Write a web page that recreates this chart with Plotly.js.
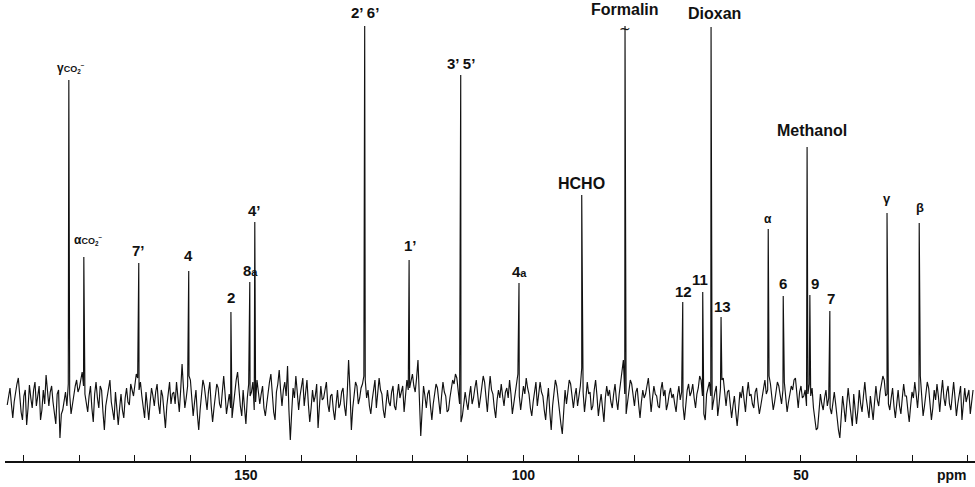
<!DOCTYPE html>
<html>
<head>
<meta charset="utf-8">
<script src="https://cdn.plot.ly/plotly-3.0.1.min.js"></script>
<style>html,body{margin:0;padding:0;background:#fff}#chart{width:975px;height:487px}</style>
</head>
<body>
<div id="chart"></div>
<script>
// ---- DATA ----
// baseline noise of the 13C spectrum, sampled every 0.25 ppm from 193 ppm down to 19 ppm
const noiseStart = 193;
const noiseStep = 0.25;
const noise = [
  -5, 6, 12, -4, -18, -2, 8, 16, 22, 4, -12, -20, 4, 10, -25, -8, 15, 2, -8, 10, 18, -6, 2, 14, -20, -10, 10, -4, 25, 12, -6, 8, 14, -2, -15, -24, 6, 10, -38, -14,
  -10, 2, 8, -6, 16, 6, -14, -4, 5, 14, 20, 8, 12, 22, 28, 14, 6, -6, -12, 4, 14, -8, -22, 6, 18, 2, -8, 14, 10, -12, -30, -6, 4, 12, 20, -2, -12, -20, 8, -6,
  -25, -8, 6, -10, -18, 2, 12, -2, -5, 16, 10, 4, 15, 26, 22, 10, 18, 4, -10, -18, 8, -6, -20, -2, 12, 4, -6, 8, 16, -4, -14, 10, 4, -12, -28, -6, 10, 18, -4, 6,
  8, -4, 18, 6, -12, 10, 36, 12, -8, 2, 14, 24, 20, -4, -16, -2, 10, -14, -30, -10, 6, 20, 14, 2, -10, 8, 18, -6, -22, -8, 4, 16, 12, -4, -8, 10, 24, 6, -14, -4,
  6, -8, -18, -4, 12, 20, 28, 8, -6, -16, 10, -8, -24, 2, 16, 4, 8, 18, -10, -2, 20, 8, -4, 6, 14, -8, -16, -4, 10, 18, 26, 4, -12, -20, 8, 16, 30, 10, -6, 10,
  18, 4, 34, -10, -40, -12, 12, 2, 24, 8, -10, 4, 16, 22, -6, 8, 20, -4, -22, -8, 10, -2, 4, 16, -28, -6, 14, 0, 2, 10, 18, -4, -12, 4, 6, -10, -20, -4, 10, -8,
  -4, 8, 12, -6, -16, 6, 40, 10, -30, -8, 8, 18, 14, -4, 2, 12, 16, 24, 20, 2, 10, -6, -14, 0, 12, 20, -8, 6, 22, 10, 6, -10, -18, -4, 10, -2, -6, 8, 14, -6,
  -10, 4, 16, 2, 8, 14, -12, 6, 20, 10, 12, 20, 26, 14, 8, 22, 40, 2, -36, -10, 14, 4, -8, 6, 10, -6, -20, -4, 6, 16, 12, -2, -14, 4, 18, 8, 4, -12, -10, 2,
  10, 20, 16, 26, 22, 8, -4, -22, -16, -6, 8, -2, -10, 4, 14, -4, 2, 12, 20, 6, -8, 2, 12, 24, 18, -2, -12, 8, 24, 10, 6, -8, -18, 0, 10, 2, 16, 4, -6, 8,
  12, 2, 20, 6, -14, -4, 8, 16, 26, 4, -10, 0, 14, 6, 22, 12, 6, -8, -16, -2, 10, 18, -6, 4, 18, 8, 4, -10, -20, -2, 12, -12, -30, -6, 8, 20, 14, 0, -8, -24,
  -34, -10, 10, -4, 6, 20, 16, 2, -8, 4, 12, -6, 4, 14, 32, 8, -12, 2, 18, 6, 8, -10, -6, 10, 20, 4, -16, -4, 6, -8, -22, 2, 14, 4, 10, -2, -8, 6, 16, 0,
  -10, 6, 18, 28, 40, 6, -14, -4, 8, 20, 16, 2, -6, 8, 12, -4, -18, -2, 10, 2, 6, 14, 22, 6, -12, 2, 14, 6, 4, -6, -8, 10, 18, 4, 10, -10, -4, 6, 12, 2,
  6, -4, -12, 4, 14, 0, 8, -6, -20, -2, 10, 16, 4, 8, 16, 2, -8, 6, 12, 24, 20, 4, -14, -20, 6, 12, 18, 4, -10, 2, 8, 14, -16, -4, 12, 20, 22, 4, -6, 8,
  10, -4, -18, -6, 4, -12, -26, -10, 8, 2, 14, 0, -12, 6, 18, 4, 6, -4, -8, 8, 12, -2, -14, -6, 4, 14, 20, 6, 10, 24, 16, 4, -10, -2, 8, 18, 14, 4, -4, 10,
  18, 4, -12, -2, 6, 14, 10, 20, 22, 6, -8, 8, 14, 2, 4, 10, -6, 6, 16, 4, 12, -8, -20, -30, -28, -10, 6, -4, -10, 2, 10, -6, 2, -8, -14, 0, 8, -4, -18, -30,
  -38, -16, 4, -8, -22, -4, 12, -2, -16, -26, 6, -6, -24, -10, 10, -4, -12, 4, 18, 2, -8, -18, 4, -6, -20, -2, 14, 0, -6, 8, 16, 24, 20, 4, 6, -4, -10, 2, 12, -6,
  -18, -4, 10, -6, -14, 2, 16, 4, 4, -10, -22, -6, 8, 2, 18, 6, -8, 10, 24, 4, -16, -6, 6, 18, 12, -4, -20, -8, 10, 0, 16, 4, -12, 6, 20, 2, -6, 8, 14, -4,
  -10, 4, 18, 2, -16, -4, 8, 14, -20, -6, 12, -2, 4, 10, -14, -2, 10
];

// resolved signals: chemical shift (ppm), height (arbitrary units), assignment label
const peakPpm    = [181.9, 179.2, 169.3, 160.3, 152.7, 149.3, 148.4, 128.6, 120.6, 111.3, 100.8, 89.5, 81.7, 71.3, 67.7, 66.2, 64.4, 55.9, 53.2, 48.9, 48.4, 44.8, 34.5, 28.7];
const peakHeight = [320, 143, 137, 129, 88, 118, 178, 374, 140, 325, 117, 205, 374, 98, 108, 373, 83, 171, 104, 253, 105, 89, 187, 177];
const small = "<span style='font-size:9px'>CO<sub>2</sub><sup>−</sup></span>";
const subA = "<span style='font-size:11px'>a</span>";
const peakLabels = [
  "γ" + small, "α" + small, "7’", "4", "2", "8" + subA, "4’", "2’ 6’", "1’", "3’ 5’",
  "4" + subA, "HCHO", "Formalin", "12", "11", "Dioxan", "13", "α", "6", "Methanol",
  "9", "7", "γ", "β"
];
const labelTicks = [150, 100, 50];
const minorTicks = [190, 180, 170, 160, 140, 130, 120, 110, 90, 80, 70, 60, 40, 30, 20];
const axisUnit = "ppm";

// ---- STYLE (label placement, in pixels) ----
const labelSize = [12, 12, 15, 15, 15, 15, 15, 15, 15, 15, 15, 16, 16, 15, 15, 16, 15, 12, 15, 16, 15, 15, 13, 13];
const labelDy   = [12, 17, 13, 16, 15, 12, 12, 14, 15, 12, 12, 12, 17, 11, 13, 14, 11, 10, 13, 17, 12, 13, 15, 16];
const labelDx   = [2, 4, 0, 0, 0, 1, 0, 0, 1, 0, 0, 0, 0, 1, -3, 3, 1, 0, 0, 5, 5, 1, 0, 1];

// ---- BUILD ----
const pts = [];
for (let i = 0; i < noise.length; i++) pts.push([noiseStart - i * noiseStep, noise[i]]);
for (let j = 0; j < peakPpm.length; j++) pts.push([peakPpm[j], peakHeight[j]]);
pts.sort((a, b) => b[0] - a[0]);

const FONT = "Liberation Sans, Arial, Helvetica, sans-serif";

const trace = {
  x: pts.map(p => p[0]),
  y: pts.map(p => p[1]),
  type: "scatter",
  mode: "lines",
  line: {color: "#111", width: 1.15},
  hoverinfo: "skip"
};

const annotations = peakPpm.map((p, j) => ({
  x: p, y: peakHeight[j], xref: "x", yref: "y",
  text: "<b>" + peakLabels[j] + "</b>",
  showarrow: false, xanchor: "center", yanchor: "middle",
  xshift: labelDx[j], yshift: labelDy[j],
  font: {family: FONT, size: labelSize[j], color: "#111"}
}));
// off-scale mark on the Formalin signal
annotations.push({
  x: peakPpm[12], y: peakHeight[12], xref: "x", yref: "y", text: "~",
  showarrow: false, xanchor: "center", yanchor: "middle", yshift: -3,
  font: {family: "DejaVu Sans, sans-serif", size: 14, color: "#111"}
});
annotations.push({
  x: 22.8, y: 0, xref: "x", yref: "paper", text: "<b>" + axisUnit + "</b>",
  showarrow: false, xanchor: "center", yanchor: "top", yshift: -4,
  font: {family: FONT, size: 14, color: "#111"}
});

const layout = {
  width: 975, height: 487,
  margin: {l: 5, r: 0, t: 10, b: 26},
  paper_bgcolor: "#fff", plot_bgcolor: "#fff",
  showlegend: false,
  xaxis: {
    range: [193.4, 18.65], showgrid: false, zeroline: false,
    showline: true, linecolor: "#111", linewidth: 2,
    ticks: "inside", ticklen: 6, tickwidth: 1, tickcolor: "#111",
    tickmode: "array", tickvals: labelTicks,
    ticktext: labelTicks.map(t => "<b>" + t + "</b>"),
    tickfont: {family: FONT, size: 14, color: "#111"},
    minor: {tickmode: "array", tickvals: minorTicks, ticks: "inside", ticklen: 6, tickwidth: 1, tickcolor: "#111", showgrid: false}
  },
  yaxis: {range: [-61, 390], visible: false, showgrid: false, zeroline: false},
  annotations: annotations
};

Plotly.newPlot("chart", [trace], layout, {displayModeBar: false, staticPlot: true});
</script>
</body>
</html>
